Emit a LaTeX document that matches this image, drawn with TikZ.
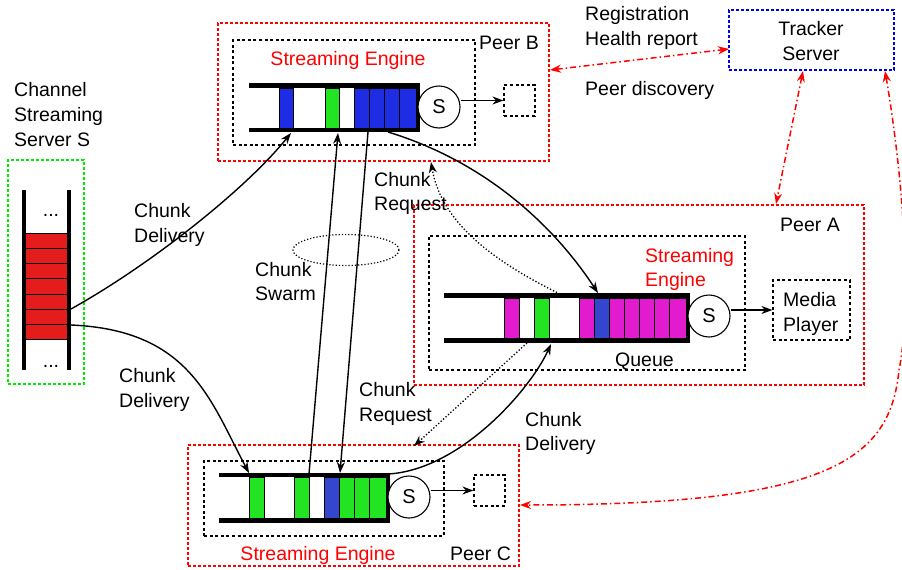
\documentclass[tikz,border=0pt]{standalone}
\usepackage{fontspec}
\setmainfont{Liberation Sans}
\usetikzlibrary{arrows.meta,fit,shapes.geometric}
\definecolor{qblue}{RGB}{30,45,228}
\definecolor{dblue}{RGB}{52,70,205}
\definecolor{qgreen}{RGB}{34,228,34}
\definecolor{qmag}{RGB}{226,28,206}
\definecolor{qred}{RGB}{228,28,28}
\definecolor{lred}{RGB}{255,0,0}
\definecolor{lblue}{RGB}{0,0,235}
\definecolor{lgreen}{RGB}{0,235,0}
\begin{document}
\begin{tikzpicture}[x=1pt,y=-1pt,
  lbl/.style={inner sep=0pt, anchor=base west, font=\fontsize{19.5}{24}\selectfont},
  clbl/.style={lbl, anchor=base},
  redlbl/.style={lbl, text=lred},
  redbox/.style={draw=lred, line width=1.2pt, dash pattern=on 2.6pt off 2.4pt, inner sep=0pt},
  blkbox/.style={draw=black, line width=1.2pt, dash pattern=on 3pt off 2.6pt, inner sep=0pt},
  bluebox/.style={draw=lblue, line width=1.2pt, dash pattern=on 2.6pt off 2.4pt, inner sep=0pt},
  greenbox/.style={draw=lgreen, line width=1.2pt, dash pattern=on 2.6pt off 2.4pt, inner sep=0pt},
  bar/.style={line width=4.6pt, line join=miter},
  cellbox/.style={draw=black, line width=0.9pt},
  srv/.style={draw=black, line width=1.1pt, fill=white, circle, minimum size=42pt, inner sep=0pt, font=\fontsize{20}{24}\selectfont},
  arr/.style={line width=1.4pt, -{Stealth[length=11pt,width=8pt]}},
  dotarr/.style={line width=1.3pt, dotted, -{Stealth[length=11pt,width=8pt]}},
  trk/.style={draw=lred, line width=1.5pt, dash pattern=on 6pt off 3pt on 1.5pt off 3pt,
    {Stealth[length=11pt,width=8pt,fill=lred]}-{Stealth[length=11pt,width=8pt,fill=lred]}}
]
\useasboundingbox (0,0) rectangle (902,570);

% ---------- Tracker ----------
\node[bluebox, fit={(729,10) (894,70)}] (tracker) {};
\node[clbl] (trk1) at (811,35) {Tracker};
\node[clbl] (trk2) at (811,60) {Server};
\node[lbl] (reg) at (585,20) {Registration};
\node[lbl] (hr) at (585,45) {Health report};
\node[lbl] (pd) at (585,95) {Peer discovery};

% ---------- Server S ----------
\node[greenbox, fit={(8,160) (84,384)}] (server) {};
\node[lbl] (ch1) at (14,96) {Channel};
\node[lbl] (ch2) at (14,121) {Streaming};
\node[lbl] (ch3) at (14,146) {Server S};
\foreach \a/\b in {233/248,248/263,263/278,278/294,294/309,309/324,324/339}
  \filldraw[cellbox, fill=qred] (24,\a) rectangle (69,\b);
\draw[line width=4.6pt] (24,190) -- (24,370);
\draw[line width=4.6pt] (69,190) -- (69,370);
\node[clbl] (dots1) at (51,216) {...};
\node[clbl] (dots2) at (51,367) {...};
\coordinate (srcUp) at (71,309);
\coordinate (srcDn) at (71,325);

% ---------- Peer B ----------
\node[redbox, fit={(218,23) (549,161)}] (peerB) {};
\node[blkbox, fit={(233,40) (475,145)}] (engB) {};
\node[blkbox, fit={(504,85) (535,116)}] (outB) {};
\node[lbl] (pbl) at (479,49) {Peer B};
\node[clbl, text=lred] (seB) at (348,65) {Streaming Engine};
\filldraw[cellbox, fill=qblue] (279,88) rectangle (293,128);
\filldraw[cellbox, fill=qgreen] (325,88) rectangle (339,128);
\foreach \a/\b in {354/369,369/384,384/399,399/416}
  \filldraw[cellbox, fill=qblue] (\a,88) rectangle (\b,128);
\draw[bar] (249,85.5) -- (418,85.5) -- (418,130) -- (249,130);
\node[srv] (sB) at (439,107) {S};
\draw[arr] (outB.west -| sB.east) -- (outB.west);

% ---------- Peer A ----------
\node[redbox, fit={(414,205) (864,385)}] (peerA) {};
\node[blkbox, fit={(429,236) (745,370)}] (engA) {};
\node[blkbox, fit={(773,280) (850,340)}] (media) {};
\node[lbl] (pal) at (780,231) {Peer A};
\node[redlbl] (seA1) at (645,262) {Streaming};
\node[redlbl] (seA2) at (645,286) {Engine};
\node[lbl] (queue) at (615,366) {Queue};
\node[lbl] (mp1) at (783,306) {Media};
\node[lbl] (mp2) at (783,331) {Player};
\filldraw[cellbox, fill=qmag] (504,298) rectangle (519,338);
\filldraw[cellbox, fill=qgreen] (534,298) rectangle (549,338);
\filldraw[cellbox, fill=qmag] (579,298) rectangle (594,338);
\filldraw[cellbox, fill=dblue] (594,298) rectangle (609,338);
\foreach \a/\b in {609/624,624/639,639/654,654/669,669/686}
  \filldraw[cellbox, fill=qmag] (\a,298) rectangle (\b,338);
\draw[bar] (444,295.5) -- (688,295.5) -- (688,340.5) -- (444,340.5);
\node[srv] (sA) at (709,316) {S};
\draw[arr] (media.west -| sA.east) -- (media.west);

% ---------- Peer C ----------
\node[redbox, fit={(188,445) (519,566)}] (peerC) {};
\node[blkbox, fit={(204,461) (444,536)}] (engC) {};
\node[blkbox, fit={(474,475) (505,506)}] (outC) {};
\node[lbl] (pcl) at (450,560) {Peer C};
\node[clbl, text=lred] (seC) at (318,560) {Streaming Engine};
\filldraw[cellbox, fill=qgreen] (249,477.5) rectangle (264,518);
\filldraw[cellbox, fill=qgreen] (294,477.5) rectangle (309,518);
\filldraw[cellbox, fill=dblue] (324,477.5) rectangle (339,518);
\foreach \a/\b in {339/354,354/369,369/386}
  \filldraw[cellbox, fill=qgreen] (\a,477.5) rectangle (\b,518);
\draw[bar] (219,475) -- (388,475) -- (388,520.5) -- (219,520.5);
\node[srv] (sC) at (409,497) {S};
\draw[arr] (outC.west -| sC.east) -- (outC.west);

% ---------- attachment points ----------
\coordinate (qBin1) at (291,133);
\coordinate (qBin2) at (338,133);
\coordinate (qBout1) at (368,132);
\coordinate (qBout2) at (388,132);
\coordinate (qAin1) at (598,293);
\coordinate (qAreq1) at (560,294);
\coordinate (qAreq2) at (527,343);
\coordinate (qAin2) at (551,344);
\coordinate (qCin1) at (249,473);
\coordinate (qCout1) at (309,474);
\coordinate (qCin2) at (340,473);
\coordinate (qCout2) at (388,474);
\coordinate (reqB) at (431,162);
\coordinate (reqC) at (414,446);
\coordinate (tkB) at (550,70);
\coordinate (tkBr) at (729,49);
\coordinate (tkA) at (803,71);
\coordinate (tkAb) at (776,204);
\coordinate (tkC) at (885,71);
\coordinate (tkCm) at (899,370);
\coordinate (tkCb) at (520,505);

% ---------- chunk connectors ----------
\draw[arr] (srcUp) .. controls (150,265) and (245,190) .. (qBin1);
\draw[arr] (srcDn) .. controls (190,330) and (210,400) .. (qCin1);
\draw[arr] (qCout1) -- (qBin2);
\draw[arr] (qBout1) -- (qCin2);
\draw[arr] (qBout2) .. controls (480,160) and (550,220) .. (qAin1);
\draw[dotarr] (qAreq1) .. controls (480,255) and (440,215) .. (reqB);
\draw[dotarr] (qAreq2) -- (reqC);
\draw[arr] (qCout2) .. controls (460,470) and (530,390) .. (qAin2);

\node[draw, line width=1.2pt, dotted, ellipse, minimum width=106pt, minimum height=31pt, inner sep=0pt] (swarm) at (346,250) {};

\node[lbl] (cd1a) at (134,217) {Chunk};
\node[lbl] (cd1b) at (134,242) {Delivery};
\node[lbl] (cd2a) at (119,382) {Chunk};
\node[lbl] (cd2b) at (119,407) {Delivery};
\node[lbl] (csa) at (255,276) {Chunk};
\node[lbl] (csb) at (255,300) {Swarm};
\node[lbl] (cr1a) at (374,186) {Chunk};
\node[lbl] (cr1b) at (374,210) {Request};
\node[lbl] (cr2a) at (359,396) {Chunk};
\node[lbl] (cr2b) at (359,421) {Request};
\node[lbl] (cd3a) at (525,426) {Chunk};
\node[lbl] (cd3b) at (525,450) {Delivery};

% ---------- tracker connectors ----------
\draw[trk] (tkB) -- (tkBr);
\draw[trk] (tkA) -- (tkAb);
\draw[trk] (tkC) .. controls (902,170) and (913,300) .. (tkCm) .. controls (890,460) and (830,505) .. (tkCb);
\end{tikzpicture}
\end{document}
